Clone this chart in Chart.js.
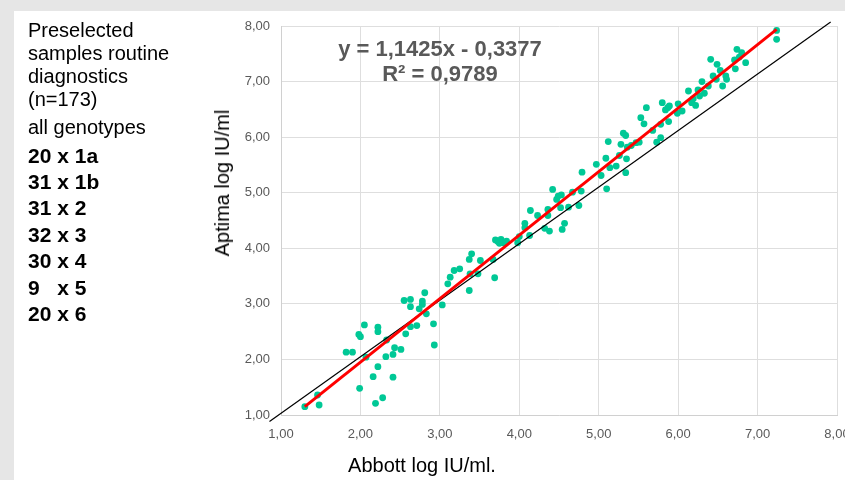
<!DOCTYPE html>
<html>
<head>
<meta charset="utf-8">
<script src="https://cdn.jsdelivr.net/npm/chart.js@4"></script>
<style>
  html, body { margin: 0; padding: 0; width: 845px; height: 480px; overflow: hidden; background: #e6e6e6; font-family: "Liberation Sans", Arial, sans-serif; }
  #panel { position: absolute; left: 14px; top: 11px; right: 0; bottom: 0; background: #fff; }
  #wrap { position: absolute; left: 0; top: 0; width: 870px; height: 480px; }
  .ln { position: absolute; left: 28px; white-space: pre; line-height: 1; color: #000; }
  .nrm { font-size: 20px; }
  .bld { font-size: 21px; font-weight: bold; }
  #eq { position: absolute; left: 290px; width: 300px; top: 36px; text-align: center; font-size: 22px; line-height: 25px; font-weight: bold; color: #595959; }
  .ttl { position: absolute; font-size: 20px; line-height: 1; color: #000; white-space: nowrap; }
</style>
</head>
<body>
<div id="panel"></div>
<div id="wrap"><canvas id="chart"></canvas></div>

<div class="ln nrm" style="top:20px">Preselected</div>
<div class="ln nrm" style="top:43px">samples routine</div>
<div class="ln nrm" style="top:66px">diagnostics</div>
<div class="ln nrm" style="top:89px">(n=173)</div>
<div class="ln nrm" style="top:117px">all genotypes</div>
<div class="ln bld" style="top:145px">20 x 1a</div>
<div class="ln bld" style="top:171px">31 x 1b</div>
<div class="ln bld" style="top:197px">31 x 2</div>
<div class="ln bld" style="top:224px">32 x 3</div>
<div class="ln bld" style="top:250px">30 x 4</div>
<div class="ln bld" style="top:277px">9   x 5</div>
<div class="ln bld" style="top:303px">20 x 6</div>

<div id="eq">y = 1,1425x - 0,3377<br>R² = 0,9789</div>
<div class="ttl" style="left:222px; top:183px; transform: translate(-50%,-50%) rotate(-90deg);">Aptima log IU/ml</div>
<div class="ttl" style="left:422px; top:465px; transform: translate(-50%,-50%);">Abbott log IU/ml.</div>

<script>
// ~~ DATA ~~
var abbott = [
  1.30,1.46,1.48,1.82,1.90,1.98,2.00,2.05,1.99,2.07,
  2.22,2.22,2.22,2.16,2.19,2.28,2.33,2.32,2.41,2.43,
  2.51,2.41,2.57,2.63,2.71,2.55,2.63,2.63,2.78,2.78,
  2.74,2.81,2.83,2.92,2.93,3.03,3.10,3.13,3.18,3.25,
  3.37,3.38,3.37,3.40,3.48,3.51,3.67,3.69,3.70,3.73,
  3.77,3.80,3.84,3.75,3.98,4.00,4.07,4.07,4.13,4.14,
  4.23,4.32,4.36,4.38,4.36,4.42,4.47,4.49,4.53,4.52,
  4.54,4.57,4.62,4.67,4.75,4.78,4.79,4.97,5.03,5.10,
  5.09,5.14,5.12,5.22,5.26,5.28,5.31,5.34,5.35,5.34,
  5.41,5.47,5.36,5.51,5.53,5.57,5.60,5.68,5.73,5.78,
  5.78,5.80,5.84,5.87,5.88,5.89,5.99,6.00,6.05,6.13,
  6.17,6.19,6.22,6.25,6.30,6.33,6.27,6.38,6.41,6.44,
  6.48,6.49,6.53,6.56,6.60,6.61,6.71,6.72,6.74,6.77,
  6.80,6.85,7.24,7.24
];
var aptima = [
  1.15,1.36,1.18,2.13,2.13,2.45,2.41,2.62,1.48,2.04,
  2.58,2.50,1.87,1.69,1.21,1.31,2.35,2.05,2.09,2.21,
  2.18,1.68,2.46,2.59,2.61,3.06,3.08,2.95,3.05,2.99,
  2.91,3.20,2.82,2.64,2.26,2.98,3.36,3.48,3.60,3.63,
  3.24,3.54,3.80,3.90,3.54,3.78,3.80,3.47,4.15,4.12,
  4.16,4.10,4.13,4.09,4.10,4.21,4.45,4.37,4.23,4.68,
  4.59,4.36,4.59,4.31,4.70,5.06,4.88,4.94,4.96,4.73,
  4.34,4.45,4.74,5.01,4.77,5.03,5.37,5.51,5.31,5.07,
  5.62,5.45,5.92,5.48,5.67,5.87,6.07,6.03,5.61,5.36,
  5.85,5.90,5.82,5.91,6.35,6.24,6.53,6.12,5.91,5.99,
  6.23,6.62,6.49,6.53,6.28,6.56,6.43,6.60,6.47,6.83,
  6.62,6.69,6.57,6.85,7.00,6.79,6.74,6.92,7.40,7.10,
  7.04,7.31,7.20,6.92,7.10,7.04,7.39,7.23,7.58,7.44,
  7.52,7.34,7.92,7.76
];
// trend line ends (red) and reference line ends (black)
var trendX = [1.30, 7.24];
var trendY = [1.15, 7.94];
var refX = [0.855, 7.92];
var refY = [0.883, 8.07];
var axisMin = 1, axisMax = 8;

function pairs(xs, ys) {
  var out = [];
  for (var i = 0; i < xs.length; i++) out.push({x: xs[i], y: ys[i]});
  return out;
}
function fmt(v) { return v.toFixed(2).replace('.', ','); }

var tickFont = {family: "'Liberation Sans', Arial, sans-serif", size: 13};

new Chart(document.getElementById('chart'), {
  type: 'scatter',
  data: {
    datasets: [{
      label: 'Trend',
      data: pairs(trendX, trendY),
      showLine: true,
      borderColor: '#ff0000',
      borderWidth: 3,
      pointRadius: 0
    }, {
      label: 'Reference',
      data: pairs(refX, refY),
      showLine: true,
      borderColor: '#000000',
      borderWidth: 1.2,
      pointRadius: 0,
      clip: false
    }, {
      label: 'Samples',
      data: pairs(abbott, aptima),
      backgroundColor: '#00c896',
      borderWidth: 0,
      pointRadius: 3.4
    }]
  },
  options: {
    responsive: true,
    maintainAspectRatio: false,
    animation: false,
    layout: { padding: {left: 0, top: 26, right: 33, bottom: 0} },
    plugins: { legend: {display: false}, tooltip: {enabled: false} },
    scales: {
      x: {
        type: 'linear', min: axisMin, max: axisMax,
        afterFit: function(s) { s.height = 65; },
        ticks: { stepSize: 1, padding: 12, color: '#595959', font: tickFont, callback: fmt },
        grid: { color: '#dedede', drawTicks: false },
        border: { color: '#d0d0d0' }
      },
      y: {
        type: 'linear', min: axisMin, max: axisMax,
        afterFit: function(s) { s.width = 281; },
        ticks: { stepSize: 1, padding: 11, color: '#595959', font: tickFont, callback: fmt },
        grid: { color: '#dedede', drawTicks: false },
        border: { color: '#d0d0d0' }
      }
    }
  }
});
</script>
</body>
</html>
